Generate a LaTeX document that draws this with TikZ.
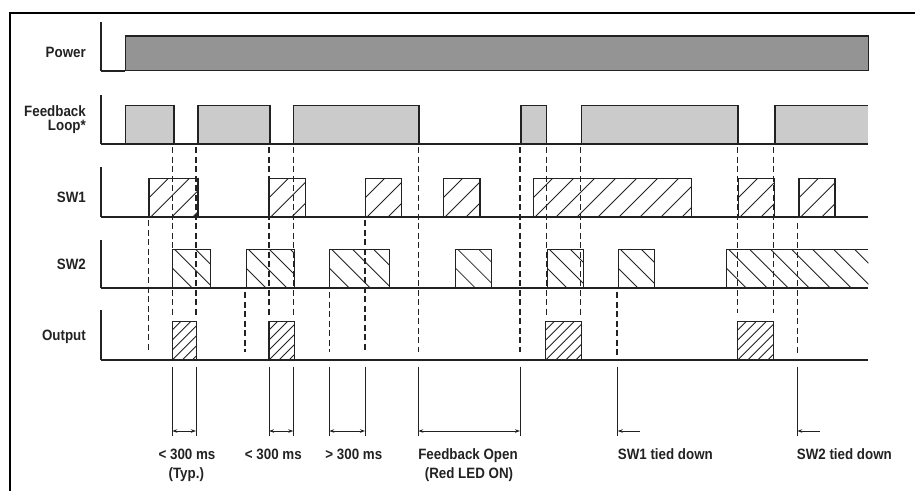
\documentclass[tikz,border=0pt]{standalone}
\usepackage{fontspec}
\setmainfont{Liberation Sans}[FakeStretch=0.89]
\usetikzlibrary{arrows.meta}
\definecolor{pwr}{HTML}{949494}
\definecolor{fbk}{HTML}{CBCBCB}
\definecolor{ink}{HTML}{222222}
% "/" hatch: x1 y1 x2 y2 spacing
\newcommand{\hatchNE}[5]{%
  \begin{scope}
    \clip (#1,#2) rectangle (#3,#4);
    \foreach \i in {0,...,30}{%
      \draw[hatchline] ({#1-40+\i*#5-60},{#4+60}) -- ({#1-40+\i*#5+60},{#4-60});}
  \end{scope}}
% "\" hatch
\newcommand{\hatchSE}[5]{%
  \begin{scope}
    \clip (#1,#2) rectangle (#3,#4);
    \foreach \i in {0,...,30}{%
      \draw[hatchline] ({#1-40+\i*#5-60},{#2-60}) -- ({#1-40+\i*#5+60},{#2+60});}
  \end{scope}}
\newcommand{\sigbox}[4]{\draw[sigline] (#1,#4) |- (#3,#2) -- (#3,#4);}
\begin{document}
\begin{tikzpicture}[x=1pt,y=-1pt,
  axisline/.style={line width=1.1pt,draw=ink},
  baseline/.style={line width=1.9pt,draw=ink},
  sigline/.style={line width=1.5pt,draw=ink},
  hatchline/.style={line width=0.8pt,draw=ink},
  guide/.style={line width=1.1pt,draw=ink,dash pattern=on 6pt off 3.5pt},
  marker/.style={line width=0.9pt,draw=ink},
  dimarrow/.style={line width=0.9pt,draw=ink,arrows={Stealth[length=5pt,width=3.5pt]-Stealth[length=5pt,width=3.5pt]}},
  onearrow/.style={line width=0.9pt,draw=ink,arrows={Stealth[length=5pt,width=3.5pt]-}},
  lbl/.style={font=\fontsize{15}{17}\selectfont\bfseries,inner sep=0pt,text=ink}]
\useasboundingbox (0,0) rectangle (915,491);
% frame
\draw[line width=2.6pt,black] (10,491) -- (10,13) -- (915,13);

% ---------- Power ----------
\draw[axisline] (101,22) -- (101,70.7);
\draw[baseline] (101,70.7) -- (125.3,70.7);
\filldraw[fill=pwr,draw=ink,line width=1.5pt] (125.3,36) rectangle (868.3,70.7);
\node[lbl,anchor=base east] (lpower) at (86,57.5) {Power};

% ---------- Feedback Loop ----------
\draw[axisline] (101,95) -- (101,144);
\foreach \a/\b in {125.3/174,198/270,293.3/419,521/546.7,581.7/738}{
  \fill[fbk] (\a,105.7) rectangle (\b,144);
  \sigbox{\a}{105.7}{\b}{144}}
\fill[fbk] (775,105.7) rectangle (868.3,144);
\draw[sigline] (775,144) |- (868.3,105.7);
\draw[baseline] (101,144) -- (868.3,144);
\node[lbl,font=\fontsize{15}{14}\selectfont\bfseries,align=right,anchor=north east] (lfb) at (86,105.9) {Feedback\\Loop*};

% ---------- SW1 ----------
\draw[axisline] (101,167) -- (101,216.7);
\foreach \a/\b in {149/198,269/305.7,365.3/401.7,443.3/480,533.3/691.7,738.3/774.3,799/835}{
  \hatchNE{\a}{178.3}{\b}{216.7}{21}
  \sigbox{\a}{178.3}{\b}{216.7}}
\draw[baseline] (101,216.7) -- (868.3,216.7);
\node[lbl,anchor=base east] (lsw1) at (86,202.3) {SW1};

% ---------- SW2 ----------
\draw[axisline] (101,240) -- (101,287.7);
\foreach \a/\b in {172.5/210.3,246.3/294.3,329.5/389.5,455.7/491.7,547.3/583.3,618.3/654.3}{
  \hatchSE{\a}{249.3}{\b}{287.7}{21}
  \sigbox{\a}{249.3}{\b}{287.7}}
\hatchSE{726.5}{249.3}{868.3}{287.7}{21}
\draw[sigline] (726.5,287.7) |- (868.3,249.3);
\draw[baseline] (101,287.7) -- (868.3,287.7);
\node[lbl,anchor=base east] (lsw2) at (86,269) {SW2};

% ---------- Output ----------
\draw[axisline] (101,310) -- (101,360);
\foreach \a/\b in {172.3/196.7,269/294.3,545.7/581.7,737.7/773.3}{
  \hatchNE{\a}{321.7}{\b}{360}{10}
  \sigbox{\a}{321.7}{\b}{360}}
\draw[baseline] (101,360) -- (868.3,360);
\node[lbl,anchor=base east] (lout) at (86,340) {Output};

% ---------- dashed guides ----------
\foreach \x/\ya/\yb in {148.5/220/352,172.5/147/318,196/147/318,245/292/352,269/147/318,
  293.3/147/318,329.5/292/352,365/220/352,418.7/147/352,520/147/352,546.7/147/318,
  580.7/147/318,617/292/358,737.5/147/313,773.3/147/313,797.5/223/353}{
  \draw[guide] (\x,\ya) -- (\x,\yb);}

% ---------- time markers ----------
\foreach \n/\x in {1/172.3,2/196,3/269,4/293.3,5/329.3,6/365,7/418.3,8/520,9/617.7,10/797.3}{
  \coordinate (mt\n) at (\x,366.7);
  \coordinate (m\n) at (\x,431);
  \draw[marker] (mt\n) -- (\x,436);}
\coordinate (s9) at (640,431);
\coordinate (s10) at (820,431);
\draw[dimarrow] (m1) -- (m2);
\draw[dimarrow] (m3) -- (m4);
\draw[dimarrow] (m5) -- (m6);
\draw[dimarrow] (m7) -- (m8);
\draw[onearrow] (m9) -- (s9);
\draw[onearrow] (m10) -- (s10);

% ---------- bottom labels ----------
\node[lbl,anchor=base] (t1a) at (187,459) {< 300 ms};
\node[lbl,anchor=base] (t1b) at (186.3,478.3) {(Typ.)};
\node[lbl,anchor=base] (t2) at (273.3,459) {< 300 ms};
\node[lbl,anchor=base] (t3) at (353.8,459) {> 300 ms};
\node[lbl,anchor=base] (t4a) at (468,459) {Feedback Open};
\node[lbl,anchor=base] (t4b) at (469,478.3) {(Red LED ON)};
\node[lbl,anchor=base west] (t5) at (617.7,459) {SW1 tied down};
\node[lbl,anchor=base west] (t6) at (796.7,459) {SW2 tied down};
\end{tikzpicture}
\end{document}
